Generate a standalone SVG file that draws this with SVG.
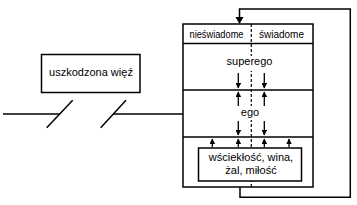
<svg xmlns="http://www.w3.org/2000/svg" width="357" height="205" viewBox="0 0 357 205">
<style>
.ln{fill:none;stroke:#000;stroke-width:1.5}
.bx{fill:#fff;stroke:#000;stroke-width:1.5}
.ar{fill:none;stroke:#000;stroke-width:1.3;marker-end:url(#ah)}
.bg{fill:#fff;stroke:none}
text{font-family:"Liberation Sans",Arial,sans-serif;font-size:11px;fill:#000;text-anchor:middle}
.sm{font-size:10px}
</style>
<defs>
<marker id="ah" viewBox="0 0 10 10" refX="9" refY="5" markerWidth="5.5" markerHeight="5.5" orient="auto" markerUnits="userSpaceOnUse">
<path d="M0,0 L10,5 L0,10 Z" fill="#000"/>
</marker>
</defs>
<rect width="357" height="205" fill="#fff"/>
<g id="main">
<rect class="bx" x="183" y="24" width="130" height="163"/>
<line class="ln" x1="183" y1="43.5" x2="313" y2="43.5"/>
<line class="ln" x1="183" y1="90" x2="313" y2="90"/>
<line class="ln" x1="183" y1="137" x2="313" y2="137"/>
<line x1="251.3" y1="24" x2="251.3" y2="187" stroke="#000" stroke-width="1.2" stroke-dasharray="3,2"/>
<rect class="bg" x="226" y="56" width="47" height="15"/>
<rect class="bg" x="240" y="106" width="20" height="14"/>
<text class="sm" x="216.5" y="38" textLength="54" lengthAdjust="spacingAndGlyphs">nieświadome</text>
<text class="sm" x="281.5" y="38">świadome</text>
<text x="249.5" y="65">superego</text>
<text x="250" y="116">ego</text>
</g>
<g id="emotions">
<rect class="bx" x="198.5" y="148" width="103" height="33"/>
<text x="251" y="161">wściekłość, wina,</text>
<text x="251" y="174">żal, miłość</text>
</g>
<g id="wiez">
<rect class="bx" x="41.5" y="54.5" width="98.5" height="38"/>
<text x="91" y="76">uszkodzona więź</text>
</g>
<g id="connectors">
<line class="ln" x1="3" y1="114" x2="60" y2="114"/>
<line class="ln" x1="46.7" y1="127.7" x2="72.7" y2="100.3"/>
<line class="ln" x1="100.7" y1="127.7" x2="126" y2="100.3"/>
<line class="ln" x1="113" y1="114" x2="183" y2="114"/>
<path class="ln" d="M240,187 V197.3 H350.3 V9 H239.5 V17"/>
<path d="M235.5,17 L243.5,17 L239.5,24 Z" fill="#000"/>
<line class="ar" x1="238.3" y1="73" x2="238.3" y2="88"/>
<line class="ar" x1="264.3" y1="73" x2="264.3" y2="88"/>
<line class="ar" x1="238.3" y1="106" x2="238.3" y2="92"/>
<line class="ar" x1="264.3" y1="106" x2="264.3" y2="92"/>
<line class="ar" x1="238.3" y1="121" x2="238.3" y2="135"/>
<line class="ar" x1="264.3" y1="121" x2="264.3" y2="135"/>
<line class="ar" x1="212.3" y1="147" x2="212.3" y2="139"/>
<line class="ar" x1="238.3" y1="147" x2="238.3" y2="139"/>
<line class="ar" x1="264.3" y1="147" x2="264.3" y2="139"/>
<line class="ar" x1="289" y1="147" x2="289" y2="139"/>
</g>
</svg>
